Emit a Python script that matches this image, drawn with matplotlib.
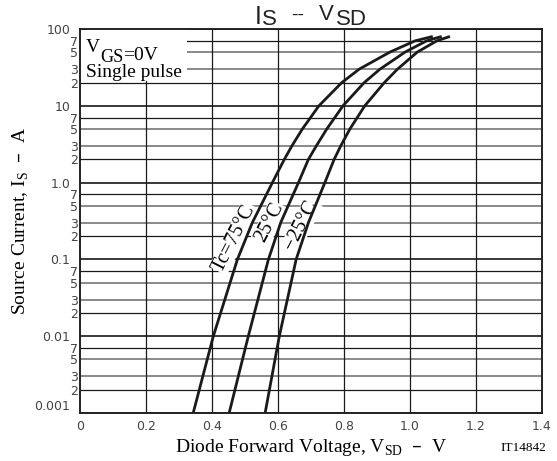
import matplotlib
matplotlib.use('Agg')
import matplotlib.pyplot as plt
from matplotlib.patches import Rectangle

# ---- data ----
current = [0.001, 0.01, 0.1, 0.3, 1, 2, 3, 5, 10, 20, 30, 50, 70, 80]
v_tc75 = [0.343, 0.404, 0.477, 0.522, 0.583, 0.619, 0.642, 0.674, 0.724, 0.793, 0.846, 0.939, 1.015, 1.069]
v_tc25 = [0.452, 0.510, 0.571, 0.608, 0.662, 0.692, 0.716, 0.748, 0.797, 0.861, 0.909, 0.985, 1.050, 1.096]
v_tcm25 = [0.561, 0.604, 0.655, 0.692, 0.742, 0.770, 0.790, 0.818, 0.863, 0.922, 0.962, 1.022, 1.081, 1.121]

x_ticks = [0, 0.2, 0.4, 0.6, 0.8, 1.0, 1.2, 1.4]
x_ticklabels = ['0', '0.2', '0.4', '0.6', '0.8', '1.0', '1.2', '1.4']
y_major = [0.001, 0.01, 0.1, 1, 10, 100]
y_major_labels = ['0.001', '0.01', '0.1', '1.0', '10', '100']
y_minor_mult = [2, 3, 5, 7]

SERIF = 'Liberation Serif'
SANS = 'Liberation Sans'
TICKFONT = 'DejaVu Sans'
W, H = 557, 461

fig = plt.figure(figsize=(W / 100, H / 100), dpi=100)
ax = fig.add_axes([80 / W, 1 - 413 / H, 462 / W, 384 / H])
ax.set_yscale('log')
ax.set_xlim(0, 1.4)
ax.set_ylim(0.001, 100)

# grid
for d in y_major:
    ax.axhline(d, color='#2a2a2a', lw=1.3, zorder=1)
y_minor = []
for d in y_major[:-1]:
    for m in y_minor_mult:
        y_minor.append(d * m)
        col = '#1a1a1a' if m in (2, 7) else '#777777'
        lw = 0.9 if m in (2, 7) else 1.2
        ax.axhline(d * m, color=col, lw=lw, zorder=1)
for xv in x_ticks[1:-1]:
    ax.axvline(xv, color='#1a1a1a', lw=0.9, zorder=1)

for s in ax.spines.values():
    s.set_linewidth(1.4)
    s.set_color('#222222')
    s.set_zorder(5)

# ticks
tick_kw = dict(fontsize=9, family=TICKFONT, color='#444444')
ax.set_xticks(x_ticks)
ax.set_xticklabels(x_ticklabels, **tick_kw)
ax.set_yticks(y_major)
ax.set_yticklabels(y_major_labels, **tick_kw)
ax.set_yticks(y_minor, minor=True)
ax.set_yticklabels([str(m) for m in y_minor_mult] * 5, minor=True, **tick_kw)
ax.tick_params(axis='both', which='both', length=0)
ax.tick_params(axis='y', which='major', pad=7.0)
ax.tick_params(axis='y', which='minor', pad=1.5)
ax.tick_params(axis='x', pad=5)
for lab in ax.get_yticklabels():
    if lab.get_text() == '0.001':
        lab.set_va('bottom')

# curves
for v in (v_tc75, v_tc25, v_tcm25):
    ax.plot(v, current, color='#1a1a1a', lw=2.0, zorder=4,
            solid_capstyle='butt', solid_joinstyle='round')

# curve labels
lab_kw = dict(rotation=63, ha='center', va='center', fontsize=14.5, family=SERIF,
              rotation_mode='anchor', zorder=3,
              bbox=dict(fc='white', ec='none', pad=0.5))
ax.text(0.468, 0.19, 'Tc=75°C', **lab_kw)
ax.text(0.574, 0.30, '25°C', **lab_kw)
ax.text(0.671, 0.275, '\u221225°C', **lab_kw)

# condition box
ax.add_patch(Rectangle((0, 21), 0.324, 79, fc='white', ec='none', zorder=2))
t1 = ax.text(0.018, 50, 'V', fontsize=14, family=SERIF, va='baseline', zorder=3)
t2 = ax.annotate('GS', xy=(1, 0), xycoords=t1, xytext=(0, -4), textcoords='offset points',
                 fontsize=13, family=SERIF, va='baseline', zorder=3)
ax.annotate('=0V', xy=(1, 0), xycoords=t2, xytext=(0, 4), textcoords='offset points',
            fontsize=14, family=SERIF, va='baseline', zorder=3)
ax.text(0.018, 24, 'Single pulse', fontsize=14, family=SERIF, va='baseline', zorder=3)

# title (pieces placed in figure pixel coordinates)
def ftext(px, py, s, size, **kw):
    fig.text(px / W, 1 - py / H, s, fontsize=size, family=SANS, color='#222222',
             va='baseline', ha='left', **kw)

ftext(255, 24, 'I', 18)
ftext(262, 25, 'S', 16)
ftext(291, 20, '--', 14)
ftext(319, 20, 'V', 16)
ftext(336, 25, 'SD', 16)

# axis labels
ax.set_xlabel(r'Diode Forward Voltage, V$_\mathregular{SD}$  –  V', fontsize=14,
              family=SERIF)
ax.xaxis.set_label_coords(0.5, -(447 - 413) / 384)
ax.xaxis.label.set_va('center')
ax.set_ylabel(r'Source Current, I$_\mathregular{S}$  –  A', fontsize=14,
              family=SERIF)
ax.yaxis.set_label_coords(-(80 - 21) / 462, 0.5)
ax.yaxis.label.set_va('center')
fig.text(500 / W, 1 - 451 / H, 'IT14842', fontsize=9.5, family=SERIF, va='baseline')

fig.savefig('out.png', dpi=100)
